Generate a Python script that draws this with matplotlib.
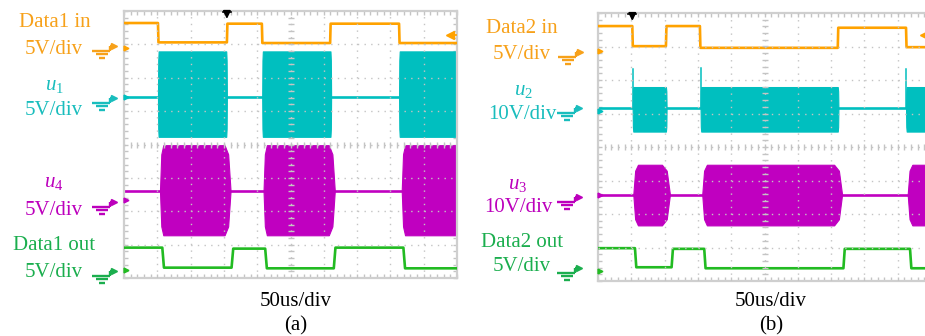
import numpy as np
import matplotlib
matplotlib.use('Agg')
import matplotlib.pyplot as plt
from matplotlib.lines import Line2D

plt.rcParams['font.family'] = ['Liberation Serif', 'DejaVu Serif']
plt.rcParams['mathtext.fontset'] = 'custom'
plt.rcParams['mathtext.it'] = 'Liberation Serif:italic'
plt.rcParams['mathtext.rm'] = 'Liberation Serif'

# ---------------- data (screen divisions: x 0..10, y -4..4) ----------------
# Panel (a)
a_in_edges = [1.02, 3.09, 4.14, 6.19, 8.26]
a_in_levels = [3.64, 3.06, 3.62, 3.04, 3.62, 3.04]
a_out_edges = [1.15, 3.23, 4.24, 6.30, 8.39]
a_out_levels = [-3.09, -3.69, -3.12, -3.71, -3.09, -3.71]
a_u1_base, a_u1_top, a_u1_bot = 1.43, 2.79, 0.23
a_u1_bursts = [(1.02, 3.09), (4.15, 6.22), (8.26, 10.0)]
a_u4_base, a_u4_top, a_u4_bot = -1.39, -0.02, -2.72
a_u4_bursts = [(1.08, 3.20), (4.19, 6.33), (8.34, 10.0)]
a_u4_taper = (0.10, 0.18)
a_gnd = [2.90, 1.43, -1.67, -3.77]
a_trig_x = 3.09
a_trig_level = 3.29

# Panel (b)
b_in_edges = [1.03, 2.04, 3.06, 7.20, 9.25]
b_in_levels = [3.61, 3.01, 3.61, 2.96, 3.56, 2.98]
b_out_edges = [1.11, 2.21, 3.19, 7.37, 9.37]
b_out_levels = [-3.02, -3.59, -3.04, -3.62, -3.04, -3.62]
b_u2_base, b_u2_top, b_u2_bot = 1.16, 1.79, 0.46
b_u2_bursts = [(1.04, 2.06), (3.08, 7.22), (9.25, 10.0)]
b_u2_spike = [2.34, 2.37, 2.32]
b_u3_base, b_u3_top, b_u3_bot = -1.42, -0.53, -2.34
b_u3_bursts = [(1.06, 2.16), (3.13, 7.33), (9.30, 10.0)]
b_u3_taper = (0.14, 0.24)
b_gnd = [2.86, 1.06, -1.44, -3.69]
b_trig_x = 1.03
b_trig_level = 3.34

a_labels = ['Data1 in', '5V/div', '$u_1$', '5V/div', '$u_4$', '5V/div', 'Data1 out', '5V/div']
b_labels = ['Data2 in', '5V/div', '$u_2$', '10V/div', '$u_3$', '10V/div', 'Data2 out', '5V/div']
time_scale = '50us/div'
captions = ['(a)', '(b)']

# ---------------- styles ----------------
C_OR, C_CY, C_MG, C_GR = '#FFA200', '#00BFBF', '#C000C0', '#22BB22'
T_OR, T_CY, T_MG, T_GR = '#F7A11A', '#19BDBD', '#BC00BC', '#1BAE4E'
GRID = '#c4c4c4'

W, H = 925, 336
fig = plt.figure(figsize=(W / 100, H / 100), dpi=100)


def fx(px):
    return px / W


def fy(py):
    return 1 - py / H


def step_xy(edges, levels, ramp=0.015):
    xs, ys = [0.0], [levels[0]]
    for e, l0, l1 in zip(edges, levels[:-1], levels[1:]):
        xs += [e, e + ramp]
        ys += [l0, l1]
    xs.append(10.0)
    ys.append(levels[-1])
    return xs, ys


def burst(ax, t0, t1, base, top, bot, color, taper=(0.02, 0.02)):
    r, f = taper
    if t1 >= 10.0:
        t = [t0, t0 + r * 0.4, t0 + r, t1]
        k = np.array([0, 0.8, 1, 1])
    else:
        t = [t0, t0 + r * 0.4, t0 + r, t1 - f, t1 - f * 0.4, t1]
        k = np.array([0, 0.8, 1, 1, 0.8, 0])
    hi = base + (top - base) * k
    lo = base + (bot - base) * k
    ax.fill_between(t, lo, hi, color=color, lw=0.8, edgecolor=color, zorder=2)


def setup_axes(ax):
    ax.set_xlim(0, 10)
    ax.set_ylim(-4, 4)
    for s in ax.spines.values():
        s.set_color('#cfcfcf')
        s.set_linewidth(1.6)
    ax.set_xticks(np.arange(0, 11, 1))
    ax.set_yticks(np.arange(-4, 5, 1))
    ax.set_xticks(np.arange(0, 10.01, 0.2), minor=True)
    ax.set_yticks(np.arange(-4, 4.01, 0.2), minor=True)
    ax.tick_params(which='both', direction='in', length=3, width=1, color=GRID,
                   top=True, right=True, labelbottom=False, labelleft=False)
    for i in range(1, 10):
        ax.axvline(i, color=GRID, lw=1.0, ls=(0, (1, 3.8)), zorder=4)
    for j in range(-3, 4):
        ax.axhline(j, color=GRID, lw=1.0, ls=(0, (1, 3.8)), zorder=4)
    xt = np.arange(0.2, 10, 0.2)
    ax.plot(xt, np.zeros_like(xt), ls='none', marker='|', ms=4, mew=1, color=GRID, zorder=4)
    yt = np.arange(-3.8, 4, 0.2)
    ax.plot(np.full_like(yt, 5.0), yt, ls='none', marker='_', ms=4, mew=1, color=GRID, zorder=4)


def gnd_symbol(x0, ya, color):
    segs = [((x0, x0 + 18), (ya + 4.5, ya + 4.5)),
            ((x0 + 18, x0 + 18), (ya + 4.5, ya)),
            ((x0 + 18, x0 + 21), (ya, ya)),
            ((x0 + 3.5, x0 + 15.5), (ya + 8.2, ya + 8.2)),
            ((x0 + 7, x0 + 12.5), (ya + 12, ya + 12))]
    for xs, ys in segs:
        fig.add_artist(Line2D([fx(v) for v in xs], [fy(v) for v in ys],
                              transform=fig.transFigure, color=color, lw=1.7,
                              solid_capstyle='butt'))
    fig.add_artist(Line2D([fx(x0 + 22)], [fy(ya)], transform=fig.transFigure,
                          marker='>', ms=4.5, color=color, ls='none'))


def trig(ax, x, level):
    ax.annotate('', xy=(x, 3.68), xytext=(x, 4.05),
                arrowprops=dict(arrowstyle='-|>', color='k', lw=1.3, mutation_scale=11),
                annotation_clip=False, zorder=6)
    ax.plot([x - 0.12, x + 0.12], [3.98, 3.98], color='k', lw=1.2, zorder=6, clip_on=False)
    ax.plot([9.80], [level], marker='<', ms=5.5, color=C_OR, ls='none', zorder=5, clip_on=False)
    ax.plot([9.80, 9.97], [level, level], color=C_OR, lw=1.3, zorder=5, clip_on=False)


def gnd_markers(ax, levels):
    for lv, c in zip(levels, [C_OR, C_CY, C_MG, C_GR]):
        ax.plot([0.06], [lv], marker='>', ms=3.5, color=c, ls='none', zorder=5, clip_on=False)


# ---------------- panel (a) ----------------
axA = fig.add_axes([fx(124), fy(278), 333 / W, 267 / H])
setup_axes(axA)
xs, ys = step_xy(a_in_edges, a_in_levels)
axA.plot(xs, ys, color=C_OR, lw=1.9, zorder=3)
xs, ys = step_xy(a_out_edges, a_out_levels, ramp=0.05)
axA.plot(xs, ys, color=C_GR, lw=1.9, zorder=3)
axA.axhline(a_u1_base, color=C_CY, lw=1.9, zorder=2)
for t0, t1 in a_u1_bursts:
    burst(axA, t0, t1, a_u1_base, a_u1_top, a_u1_bot, C_CY)
axA.axhline(a_u4_base, color=C_MG, lw=1.9, zorder=2)
for t0, t1 in a_u4_bursts:
    burst(axA, t0, t1, a_u4_base, a_u4_top, a_u4_bot, C_MG, a_u4_taper)
trig(axA, a_trig_x, a_trig_level)
gnd_markers(axA, a_gnd)

# ---------------- panel (b) ----------------
axB = fig.add_axes([fx(598), fy(281), 333 / W, 268 / H])
setup_axes(axB)
xs, ys = step_xy(b_in_edges, b_in_levels)
axB.plot(xs, ys, color=C_OR, lw=1.9, zorder=3)
xs, ys = step_xy(b_out_edges, b_out_levels, ramp=0.04)
axB.plot(xs, ys, color=C_GR, lw=1.9, zorder=3)
axB.axhline(b_u2_base, color=C_CY, lw=1.9, zorder=2)
for (t0, t1), sp in zip(b_u2_bursts, b_u2_spike):
    burst(axB, t0, t1, b_u2_base, b_u2_top, b_u2_bot, C_CY)
    axB.plot([t0, t0], [b_u2_base, sp], color=C_CY, lw=1.1, zorder=2)
axB.axhline(b_u3_base, color=C_MG, lw=1.9, zorder=2)
for t0, t1 in b_u3_bursts:
    burst(axB, t0, t1, b_u3_base, b_u3_top, b_u3_bot, C_MG, b_u3_taper)
trig(axB, b_trig_x, b_trig_level)
gnd_markers(axB, b_gnd)

# ---------------- labels ----------------
FS = 15
colors8 = [T_OR, T_OR, T_CY, T_CY, T_MG, T_MG, T_GR, T_GR]
a_pos = [(55, 27), (54, 54), (54, 90), (54, 115), (54, 187), (54, 215), (54, 250), (54, 277)]
b_pos = [(522, 33), (522, 59), (523, 95), (522, 119), (518, 189), (518, 212), (522, 247), (522, 271)]
for txt, (x, y), c in zip(a_labels, a_pos, colors8):
    fig.text(fx(x), fy(y), txt, color=c, fontsize=FS, ha='center', va='baseline')
for txt, (x, y), c in zip(b_labels, b_pos, colors8):
    fig.text(fx(x), fy(y), txt, color=c, fontsize=FS, ha='center', va='baseline')

for (x0, ya), c in zip([(92, 46), (92, 98), (92, 202), (92, 271)], [T_OR, T_CY, T_MG, T_GR]):
    gnd_symbol(x0, ya, c)
for (x0, ya), c in zip([(558, 52), (557, 108), (557, 197), (557, 268)], [T_OR, T_CY, T_MG, T_GR]):
    gnd_symbol(x0, ya, c)

for xc, cap in zip([296, 771], captions):
    fig.text(fx(xc), fy(306), time_scale, fontsize=FS, ha='center', va='baseline', color='black')
    fig.text(fx(xc), fy(330), cap, fontsize=FS, ha='center', va='baseline', color='black')

fig.savefig('out.png', dpi=100)
